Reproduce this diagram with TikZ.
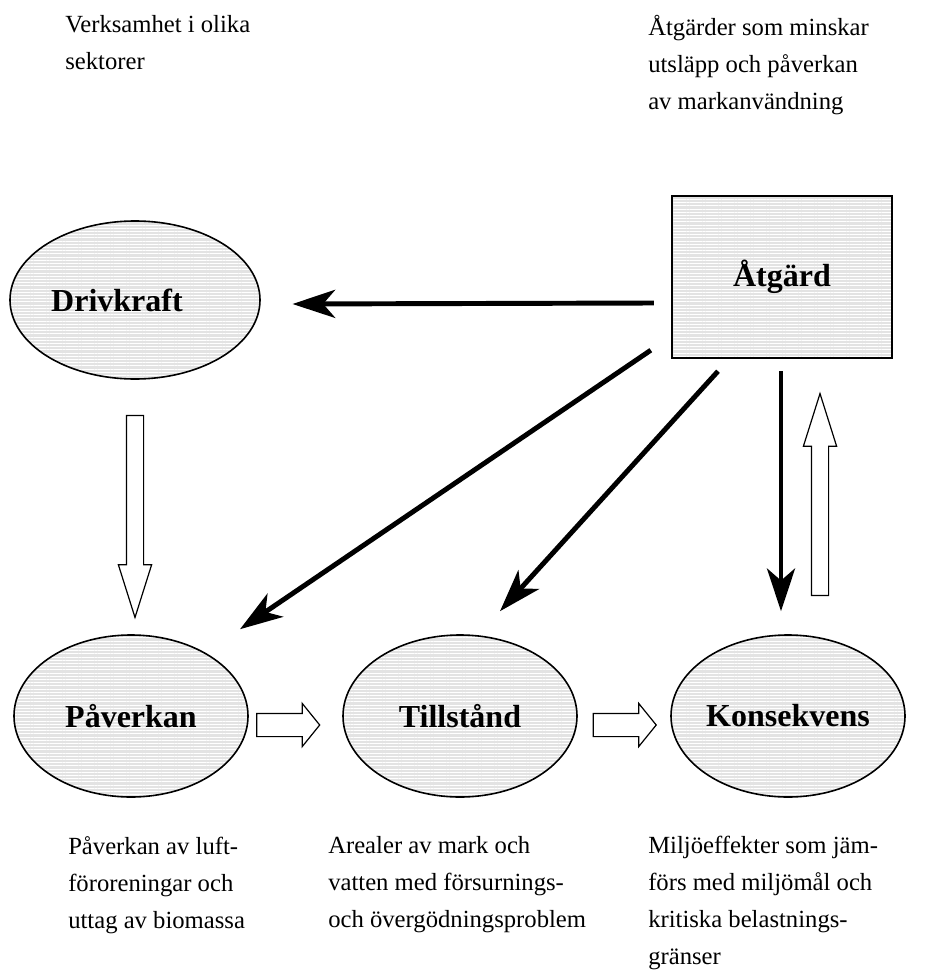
\documentclass[tikz,border=0pt]{standalone}
\usepackage{fontspec}
\setmainfont{Liberation Serif}
\usetikzlibrary{shapes.geometric,shapes.arrows,arrows.meta,patterns.meta,calc}

\tikzset{
  hatchfill/.style={draw, line width=1.2pt, preaction={fill=gray!22},
    pattern={Lines[angle=0,distance=2.4pt,line width=0.7pt]}, pattern color=white},
  blob/.style={hatchfill, ellipse, inner sep=0pt, minimum width=175.5pt, minimum height=121.5pt,
    font=\fontsize{24}{28}\selectfont\bfseries},
  boxnode/.style={hatchfill, rectangle, line width=1.8pt, inner sep=0pt, minimum width=165pt,
    minimum height=121.5pt, font=\fontsize{24}{28}\selectfont\bfseries},
  bigarrow/.style={line width=3.7pt, -{Stealth[length=32pt,width=21pt,inset=9pt]}},
  hollowarrow/.style={single arrow, draw, line width=0.9pt, fill=white, inner xsep=0pt,
    single arrow head indent=0pt},
  note/.style={anchor=north west, inner sep=0pt, align=left, font=\fontsize{18.5}{27.75}\selectfont}
}

\begin{document}
\begin{tikzpicture}[x=0.75pt,y=-0.75pt]
    \useasboundingbox (0,0) rectangle (952,977);
    % Ellipses and box
    \node[blob, minimum width=187.5pt, minimum height=118.5pt] (drivkraft) at (135,300) {};
    \node[font=\fontsize{24}{28}\selectfont\bfseries] (drivlabel) at ($(drivkraft)+(-18,0)$) {Drivkraft};
    \node[blob] (paverkan) at (131,716) {Påverkan};
    \node[blob] (tillstand) at (460,716) {Tillstånd};
    \node[blob] (konsekvens) at (788,716) {Konsekvens};
    \node[boxnode] (atgard) at (782,277) {Åtgärd};
    % Black arrows from the box
    \draw[bigarrow] ($(atgard.west)+(-17,26)$) -- ($(drivkraft.east)+(32,4)$);
    \draw[bigarrow] ($(atgard.south west)+(-20,-9)$) -- ($(paverkan.north)+(109,-5)$);
    \draw[bigarrow] ($(atgard.south)+(-64,12)$) -- ($(tillstand.north)+(40,-23)$);
    \draw[bigarrow] ($(atgard.south)+(-1,12)$) -- ($(konsekvens.north)+(-7,-23)$);
    % Open arrows
    \node[hollowarrow, inner ysep=6pt, minimum height=151.5pt, single arrow head extend=6pt,
      single arrow tip angle=35, rotate=-90] (drivdown) at ($(drivkraft.south)!0.5!(paverkan.north)+(2,-4)$) {};
    \node[hollowarrow, inner ysep=8.25pt, minimum height=47.25pt, single arrow head extend=7.5pt,
      single arrow tip angle=102] (pavright) at ($(paverkan.east)!0.5!(tillstand.west)+(-12,9)$) {};
    \node[hollowarrow, inner ysep=8.25pt, minimum height=47.25pt, single arrow head extend=7.5pt,
      single arrow tip angle=102] (tillright) at ($(tillstand.east)!0.5!(konsekvens.west)+(-4,9)$) {};
    \node[hollowarrow, inner ysep=6pt, minimum height=151.5pt, single arrow head extend=6pt,
      single arrow tip angle=35, rotate=90] (konsup) at ($(atgard.south)+(38,149)$) {};
    % Text Node
    \node[note] (drivtext) at (65,15) {Verksamhet i olika\\sektorer};
    % Text Node
    \node[note] (atgardtext) at (648,15) {Åtgärder som minskar\\utsläpp och påverkan\\av markanvändning};
    % Text Node
    \node[note] (pavtext) at (68,836) {Påverkan av luft-\\föroreningar och\\uttag av biomassa};
    % Text Node
    \node[note] (tilltext) at (328,836) {Arealer av mark och\\vatten med försurnings-\\och övergödningsproblem};
    % Text Node
    \node[note] (konstext) at (648,836) {Miljöeffekter som jäm-\\förs med miljömål och\\kritiska belastnings-\\gränser};
\end{tikzpicture}
\end{document}
